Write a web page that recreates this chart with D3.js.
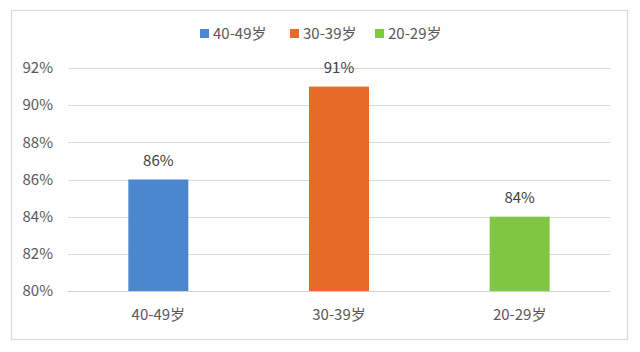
<!DOCTYPE html>
<html>
<head>
<meta charset="utf-8">
<script src="https://cdn.jsdelivr.net/npm/d3@7"></script>
<style>
  body { margin: 0; background: #fff; }
  text { font-family: "Noto Sans CJK SC", "Noto Sans", sans-serif; }
</style>
</head>
<body>
<svg id="chart" width="640" height="352"></svg>
<script>
// Data
const categories = ['40-49岁', '30-39岁', '20-29岁'];
const values = [86, 91, 84];
const colors = ['#4a87cf', '#e8692a', '#80c843'];
const yTicks = [80, 82, 84, 86, 88, 90, 92];

const svg = d3.select('#chart');
const fontSize = '15px';

// Chart border
svg.append('rect')
    .attr('x', 11.5)
    .attr('y', 10.5)
    .attr('width', 616)
    .attr('height', 329)
    .attr('fill', '#fff')
    .attr('stroke', '#d9d9d9')
    .attr('stroke-width', 1.2);

// Plot area
const plot = { left: 68, right: 610, top: 68, bottom: 291 };

const xScale = d3.scaleBand()
    .domain(categories)
    .range([plot.left, plot.right]);

const yScale = d3.scaleLinear()
    .domain([80, 92])
    .range([plot.bottom, plot.top]);

const barWidth = xScale.bandwidth() * 0.332;

// Grid lines
svg.append('g')
    .selectAll('line')
    .data(yTicks.filter(d => d !== 80))
    .join('line')
    .attr('x1', plot.left)
    .attr('x2', plot.right)
    .attr('y1', d => Math.round(yScale(d)) + 0.5)
    .attr('y2', d => Math.round(yScale(d)) + 0.5)
    .attr('stroke', '#d9d9d9')
    .attr('stroke-width', 1);

// Y axis labels
svg.append('g')
    .selectAll('text')
    .data(yTicks)
    .join('text')
    .attr('x', 53)
    .attr('y', d => yScale(d))
    .attr('dy', '0.35em')
    .attr('text-anchor', 'end')
    .style('font-size', fontSize)
    .style('fill', '#595959')
    .text(d => d + '%');

// Bars
svg.append('g')
    .selectAll('rect')
    .data(values)
    .join('rect')
    .attr('x', (d, i) => xScale(categories[i]) + xScale.bandwidth() / 2 - barWidth / 2)
    .attr('y', d => yScale(d))
    .attr('width', barWidth)
    .attr('height', d => plot.bottom - yScale(d))
    .attr('fill', (d, i) => colors[i]);

// Bottom axis line
svg.append('line')
    .attr('x1', plot.left)
    .attr('x2', plot.right)
    .attr('y1', plot.bottom + 0.5)
    .attr('y2', plot.bottom + 0.5)
    .attr('stroke', '#d0d0d0')
    .attr('stroke-width', 1);

// Value labels
svg.append('g')
    .selectAll('text')
    .data(values)
    .join('text')
    .attr('x', (d, i) => xScale(categories[i]) + xScale.bandwidth() / 2)
    .attr('y', d => yScale(d) - 19)
    .attr('dy', '0.35em')
    .attr('text-anchor', 'middle')
    .style('font-size', fontSize)
    .style('fill', '#404040')
    .text(d => d + '%');

// Category labels
svg.append('g')
    .selectAll('text')
    .data(categories)
    .join('text')
    .attr('x', d => xScale(d) + xScale.bandwidth() / 2)
    .attr('y', 315)
    .attr('dy', '0.35em')
    .attr('text-anchor', 'middle')
    .style('font-size', fontSize)
    .style('fill', '#595959')
    .text(d => d);

// Legend
const legendX = [200, 290, 375];
const legend = svg.append('g');
categories.forEach((c, i) => {
    legend.append('rect')
        .attr('x', legendX[i])
        .attr('y', 29)
        .attr('width', 9)
        .attr('height', 9)
        .attr('fill', colors[i]);
    legend.append('text')
        .attr('x', legendX[i] + 13)
        .attr('y', 33.5)
        .attr('dy', '0.35em')
        .style('font-size', fontSize)
        .style('fill', '#595959')
        .text(c);
});
</script>
</body>
</html>
